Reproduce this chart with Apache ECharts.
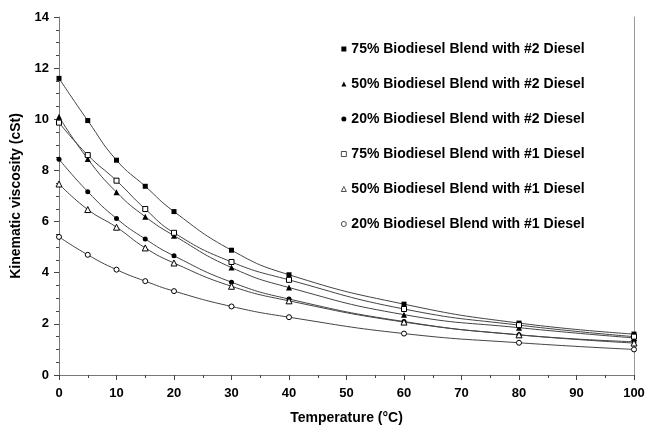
<!DOCTYPE html>
<html>
<head>
<meta charset="utf-8">
<script src="https://cdn.jsdelivr.net/npm/echarts@6/dist/echarts.min.js"></script>
<style>
  html, body { margin: 0; padding: 0; background: #fff; }
  #chart { width: 649px; height: 430px; }
</style>
</head>
<body>
<div id="chart"></div>
<script>
const temps = [0, 5, 10, 15, 20, 30, 40, 60, 80, 100];

// kinematic viscosity (cSt)
const b75d2 = [11.6, 9.95, 8.4, 7.38, 6.39, 4.88, 3.92, 2.77, 2.03, 1.6];
const b50d2 = [10.1, 8.45, 7.15, 6.19, 5.45, 4.2, 3.42, 2.36, 1.85, 1.45];
const b20d2 = [8.44, 7.17, 6.12, 5.32, 4.66, 3.63, 2.97, 2.09, 1.57, 1.3];
const b75d1 = [9.87, 8.6, 7.6, 6.49, 5.56, 4.42, 3.72, 2.58, 1.95, 1.5];
const b50d1 = [7.47, 6.47, 5.78, 4.97, 4.38, 3.47, 2.9, 2.07, 1.57, 1.25];
const b20d1 = [5.4, 4.7, 4.12, 3.67, 3.28, 2.68, 2.26, 1.62, 1.26, 1.0];

const FONT = "'Liberation Sans', Arial, sans-serif";

const seriesDefs = [
  { name: "75% Biodiesel Blend with #2 Diesel", data: b75d2, symbol: "rect", size: 5, open: false },
  { name: "50% Biodiesel Blend with #2 Diesel", data: b50d2, symbol: "triangle", size: 6, open: false },
  { name: "20% Biodiesel Blend with #2 Diesel", data: b20d2, symbol: "circle", size: 5, open: false },
  { name: "75% Biodiesel Blend with #1 Diesel", data: b75d1, symbol: "rect", size: 5, open: true },
  { name: "50% Biodiesel Blend with #1 Diesel", data: b50d1, symbol: "triangle", size: 6, open: true },
  { name: "20% Biodiesel Blend with #1 Diesel", data: b20d1, symbol: "circle", size: 5, open: true },
];

const chart = echarts.init(document.getElementById("chart"));

chart.setOption({
  animation: false,
  backgroundColor: "#fff",
  textStyle: { fontFamily: FONT },
  grid: { left: 59, right: 15, top: 17, bottom: 52 },
  legend: {
    orient: "vertical",
    left: 336,
    top: 37,
    itemGap: 21,
    itemWidth: 5,
    itemHeight: 5,
    textStyle: { color: "#000", fontSize: 14, fontWeight: "bold", fontFamily: FONT },
    data: seriesDefs.map((s) => ({
      name: s.name,
      icon: s.symbol,
      itemStyle: s.open ? { borderWidth: 0.7 } : undefined,
    })),
  },
  xAxis: {
    type: "value",
    min: 0,
    max: 100,
    interval: 10,
    name: "Temperature (°C)",
    nameLocation: "middle",
    nameGap: 36,
    nameTextStyle: { color: "#000", fontSize: 14, fontWeight: "bold" },
    axisLine: { lineStyle: { color: "#777" } },
    axisTick: { length: 5, lineStyle: { color: "#444" } },
    minorTick: { show: true, splitNumber: 2, length: 3, lineStyle: { color: "#444" } },
    axisLabel: { color: "#000", fontSize: 13, fontWeight: "bold", margin: 12 },
    splitLine: { show: false },
  },
  yAxis: [
    {
      type: "value",
      min: 0,
      max: 14,
      interval: 2,
      name: "Kinematic viscosity (cSt)",
      nameLocation: "middle",
      nameGap: 33,
      nameTextStyle: { color: "#000", fontSize: 14, fontWeight: "bold" },
      axisLine: { show: true, lineStyle: { color: "#777" } },
      axisTick: { show: true, length: 5, lineStyle: { color: "#444" } },
      minorTick: { show: true, splitNumber: 4, length: 3, lineStyle: { color: "#444" } },
      axisLabel: { color: "#000", fontSize: 13, fontWeight: "bold", margin: 10 },
      splitLine: { show: false },
    },
    {
      type: "value",
      position: "right",
      min: 0,
      max: 14,
      interval: 2,
      axisLine: { show: true, lineStyle: { color: "#999" } },
      axisTick: { show: false },
      axisLabel: { show: false },
      splitLine: { show: false },
    },
  ],
  series: seriesDefs.map((s) => ({
    name: s.name,
    type: "line",
    data: temps.map((t, i) => [t, s.data[i]]),
    smooth: 0.5,
    symbol: s.symbol,
    symbolSize: s.size,
    showSymbol: true,
    lineStyle: { color: "#444", width: 1 },
    itemStyle: {
      color: s.open ? "#fff" : "#000",
      borderColor: "#000",
      borderWidth: s.open ? 1 : 0,
    },
    emphasis: { disabled: true },
  })),
});
</script>
</body>
</html>
